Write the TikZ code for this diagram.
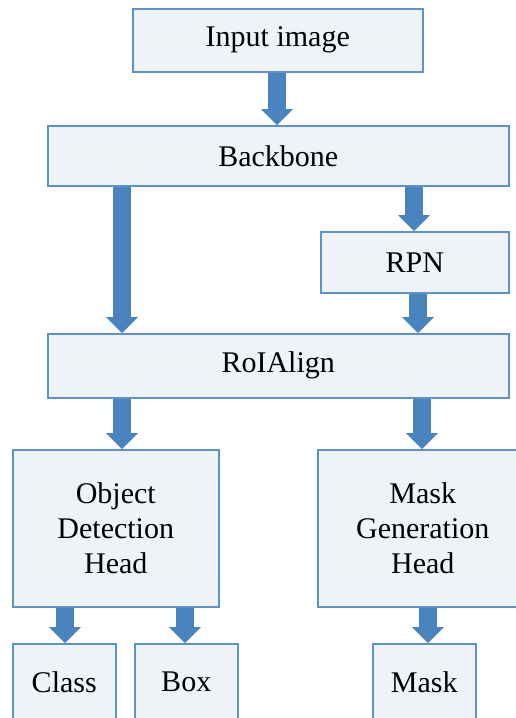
\documentclass[tikz,border=0pt]{standalone}
\usepackage{fontspec}
\setmainfont{Liberation Serif}
\usetikzlibrary{arrows.meta}
\definecolor{boxfill}{HTML}{EEF3F8}
\definecolor{boxline}{HTML}{5E92CC}
\definecolor{flow}{HTML}{4A84BE}
\begin{document}
\begin{tikzpicture}[x=1pt, y=-1pt,
  blk/.style={draw=boxline, line width=1.5pt, fill=boxfill, inner sep=0pt,
    anchor=north west, align=center, font=\fontsize{30}{35}\selectfont},
  flowarrow/.style={draw=flow, line width=18pt,
    -{Triangle[width=32pt, length=16pt, line width=0pt, fill=flow]}}]
  \useasboundingbox (0,0) rectangle (516,718);
  \clip (0,0) rectangle (516,718);
  \fill[white] (0,0) rectangle (516,718);

  % processing blocks
  \node[blk, minimum width=290pt, minimum height=63pt] (inp) at (132,8) {Input image};
  \node[blk, minimum width=461pt, minimum height=60pt] (bb)  at (47,125) {Backbone};
  \node[blk, minimum width=188pt, minimum height=61pt] (rpn) at (320,231) {RPN};
  \node[blk, minimum width=461pt, minimum height=64pt] (roi) at (47,333) {RoIAlign};
  \node[blk, minimum width=206pt, minimum height=157pt] (odh) at (12,449) {Object\\Detection\\Head};
  \node[blk, minimum width=210pt, minimum height=157pt] (mgh) at (317,449) {Mask\\Generation\\Head};
  \node[blk, minimum width=103pt, minimum height=77pt] (cls) at (12,643) {Class};
  \node[blk, minimum width=103pt, minimum height=77pt] (box) at (134,643) {Box};
  \node[blk, minimum width=103pt, minimum height=77pt] (msk) at (372,643) {Mask};

  % arrow columns
  \coordinate (cIn) at (277,0);
  \coordinate (cL)  at (122,0);
  \coordinate (cR1) at (414,0);
  \coordinate (cR2) at (418,0);
  \coordinate (cR3) at (422,0);
  \coordinate (cC)  at (65,0);
  \coordinate (cB)  at (185,0);
  \coordinate (cM)  at (428,0);

  % data flow
  \draw[flowarrow] (inp.south -| cIn) -- (bb.north -| cIn);
  \draw[flowarrow] (bb.south -| cL)   -- (roi.north -| cL);
  \draw[flowarrow] (bb.south -| cR1)  -- (rpn.north -| cR1);
  \draw[flowarrow] (rpn.south -| cR2) -- (roi.north -| cR2);
  \draw[flowarrow] (roi.south -| cL)  -- (odh.north -| cL);
  \draw[flowarrow] (roi.south -| cR3) -- (mgh.north -| cR3);
  \draw[flowarrow] (odh.south -| cC)  -- (cls.north -| cC);
  \draw[flowarrow] (odh.south -| cB)  -- (box.north -| cB);
  \draw[flowarrow] (mgh.south -| cM)  -- (msk.north -| cM);
\end{tikzpicture}
\end{document}
